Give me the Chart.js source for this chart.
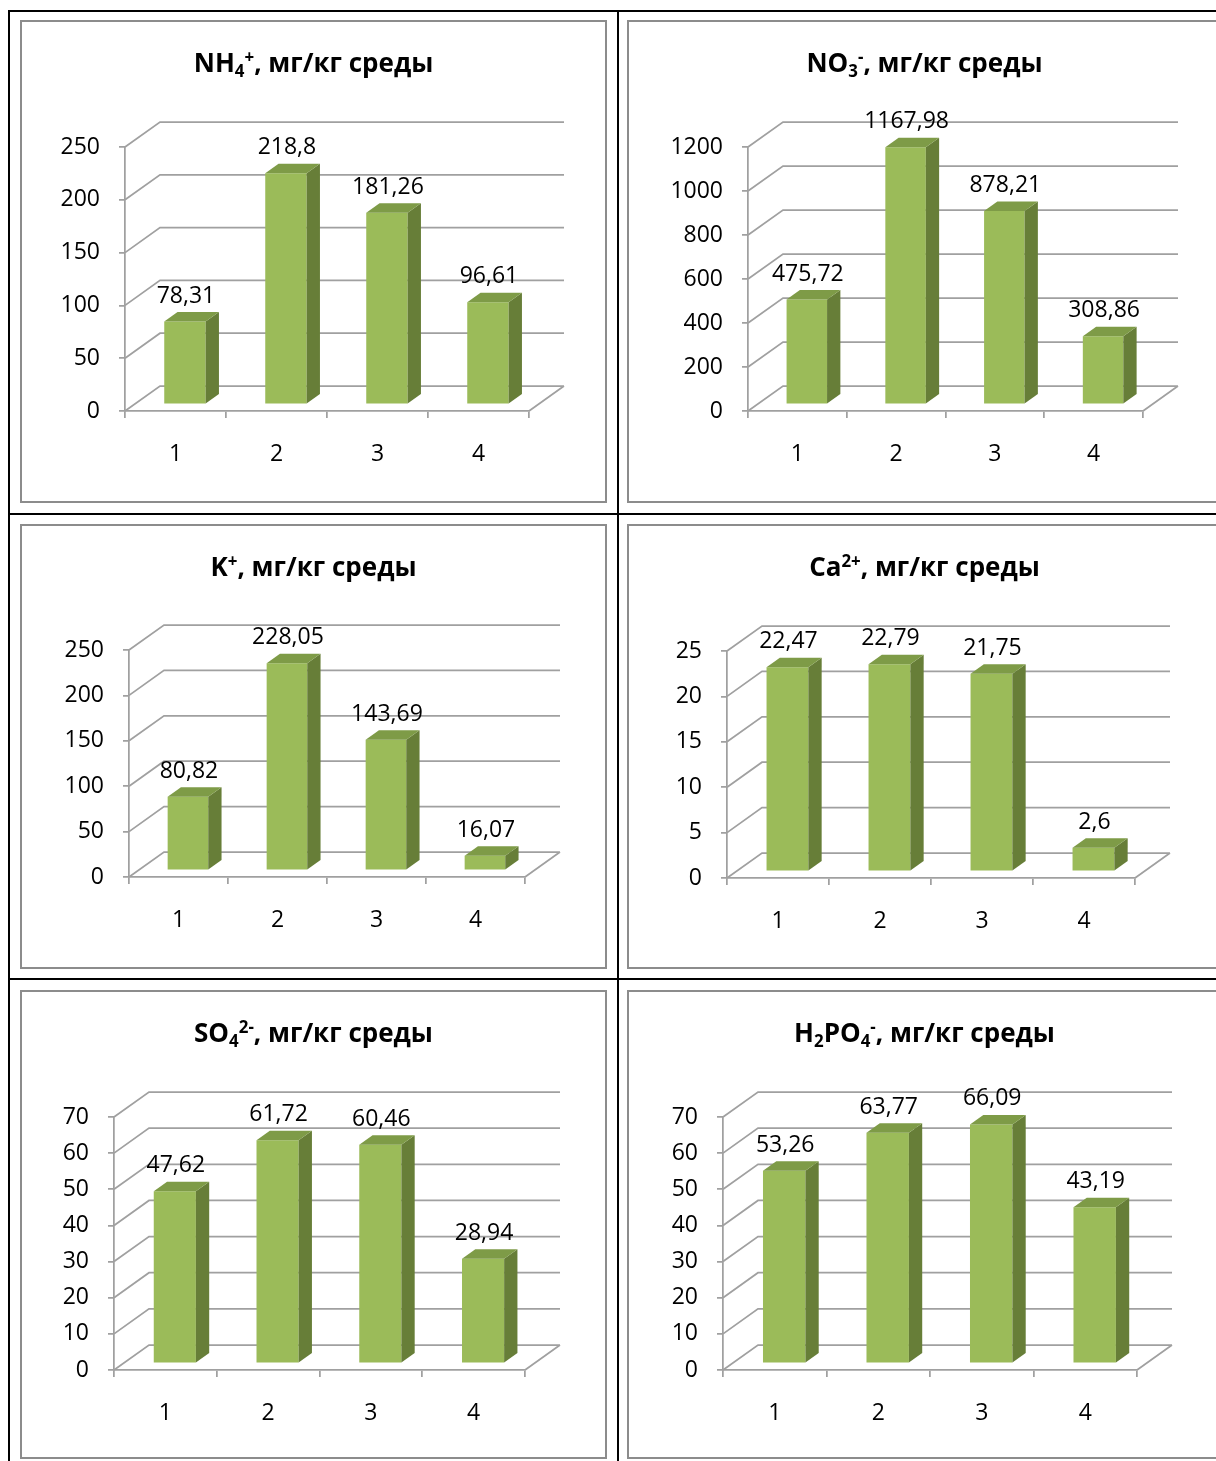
<!DOCTYPE html>
<html>
<head>
<meta charset="utf-8">
<script src="https://cdn.jsdelivr.net/npm/chart.js@4.4.1/dist/chart.umd.min.js"></script>
<style>
  body { margin: 0; width: 1216px; height: 1461px; overflow: hidden; background: #fff; position: relative; font-family: "Open Sans", sans-serif; }
  .line { position: absolute; background: #000; }
  .box { position: absolute; border: 2px solid #8c8c8c; box-sizing: border-box; background: #fff; }
  .box canvas { position: absolute; left: 0; top: 0; }
  .box h3 { position: absolute; left: 0; right: 0; top: 21px; margin: 0; text-align: center; font: bold 26px/38px "Open Sans", sans-serif; color: #000; z-index: 2; }
  .box h3 sub, .box h3 sup { font-size: 0.65em; line-height: 0; }
  .box h3 sub { vertical-align: -0.3em; }
  .box h3 sup { vertical-align: 0.55em; }
</style>
</head>
<body>
<script>
// данные
const categories = ['1', '2', '3', '4'];

const nh4 = [78.31, 218.8, 181.26, 96.61];
const no3 = [475.72, 1167.98, 878.21, 308.86];
const kPlus = [80.82, 228.05, 143.69, 16.07];
const ca = [22.47, 22.79, 21.75, 2.6];
const so4 = [47.62, 61.72, 60.46, 28.94];
const h2po4 = [53.26, 63.77, 66.09, 43.19];

const series = [nh4, no3, kPlus, ca, so4, h2po4];
const titles = [
    'NH<sub>4</sub><sup>+</sup>, мг/кг среды',
    'NO<sub>3</sub><sup>-</sup>, мг/кг среды',
    'K<sup>+</sup>, мг/кг среды',
    'Ca<sup>2+</sup>, мг/кг среды',
    'SO<sub>4</sub><sup>2-</sup>, мг/кг среды',
    'H<sub>2</sub>PO<sub>4</sub><sup>-</sup>, мг/кг среды'
];
const yMax = [250, 1200, 250, 25, 70, 70];
const yStep = [50, 200, 50, 5, 10, 10];

// рамки (x, y, w, h) и передняя плоскость графика [left, top, right, bottom] в координатах страницы
const boxes = [
    { x: 20, y: 20, w: 587, h: 483, plot: [125, 147, 529, 411] },
    { x: 627, y: 20, w: 595, h: 483, plot: [748, 147, 1143, 411] },
    { x: 20, y: 524, w: 587, h: 445, plot: [129, 650, 525, 877] },
    { x: 627, y: 524, w: 595, h: 445, plot: [727, 651, 1135, 878] },
    { x: 20, y: 990, w: 587, h: 469, plot: [114, 1117, 525, 1370] },
    { x: 627, y: 990, w: 595, h: 469, plot: [723, 1117, 1137, 1370] }
];

const GRID = '#a0a0a0';
const FRONT = '#9bbb59', SIDE = '#677e38', TOP = '#7e9b47';
const DX = 35, DY = 25;       // глубина "3D"
const F0 = 0.27, F1 = 0.65;   // положение столбика по глубине
const Y_W = 80, X_H = 60;

// линии таблицы
function addLine(x, y, w, h) {
    const d = document.createElement('div');
    d.className = 'line';
    Object.assign(d.style, { left: x + 'px', top: y + 'px', width: w + 'px', height: h + 'px' });
    document.body.appendChild(d);
}
addLine(8, 10, 1220, 2);
addLine(8, 10, 2, 1460);
addLine(617, 10, 2, 1460);
addLine(8, 513, 1220, 2);
addLine(8, 978, 1220, 2);

const fmt = v => String(v).replace('.', ',');

const box3d = {
    id: 'box3d',
    beforeDatasetsDraw(chart) {
        const { ctx, chartArea: a, scales: { y } } = chart;
        ctx.save();
        ctx.strokeStyle = GRID;
        ctx.lineWidth = 1.75;
        ctx.beginPath();
        y.ticks.forEach(t => {
            const py = y.getPixelForValue(t.value);
            ctx.moveTo(a.left, py);
            ctx.lineTo(a.left + DX, py - DY);
            ctx.lineTo(a.right + DX, py - DY);
        });
        const p0 = y.getPixelForValue(0);
        ctx.moveTo(a.right, p0);
        ctx.lineTo(a.right + DX, p0 - DY);
        ctx.stroke();
        ctx.restore();
        // передняя грань столбиков рисуется Chart.js, сдвинутая вглубь
        ctx.save();
        ctx.translate(DX * F0, -DY * F0);
    },
    afterDatasetsDraw(chart) {
        const { ctx } = chart;
        ctx.restore();
        const ox = DX * F0, oy = -DY * F0;
        const bx = DX * (F1 - F0), by = DY * (F1 - F0);
        const meta = chart.getDatasetMeta(0);
        const vals = chart.data.datasets[0].data;
        ctx.save();
        meta.data.forEach((el, i) => {
            const l = el.x - el.width / 2 + ox, r = el.x + el.width / 2 + ox;
            const t = el.y + oy, b = el.base + oy;
            ctx.fillStyle = SIDE;
            ctx.beginPath();
            ctx.moveTo(r, t); ctx.lineTo(r + bx, t - by); ctx.lineTo(r + bx, b - by); ctx.lineTo(r, b);
            ctx.closePath(); ctx.fill();
            ctx.fillStyle = TOP;
            ctx.beginPath();
            ctx.moveTo(l, t); ctx.lineTo(l + bx, t - by); ctx.lineTo(r + bx, t - by); ctx.lineTo(r, t);
            ctx.closePath(); ctx.fill();
            ctx.fillStyle = '#000';
            ctx.font = '23px "Open Sans", sans-serif';
            ctx.textAlign = 'center';
            ctx.textBaseline = 'middle';
            ctx.fillText(fmt(vals[i]), el.x + ox + 1, t - by - 16);
        });
        ctx.restore();
    }
};

Chart.defaults.font.family = '"Open Sans", sans-serif';
Chart.defaults.font.size = 23;
Chart.defaults.color = '#000';

boxes.forEach((bx, i) => {
    const div = document.createElement('div');
    div.className = 'box';
    Object.assign(div.style, { left: bx.x + 'px', top: bx.y + 'px', width: bx.w + 'px', height: bx.h + 'px' });
    const h3 = document.createElement('h3');
    h3.innerHTML = titles[i];
    const canvas = document.createElement('canvas');
    const cx = bx.x + 2, cy = bx.y + 2, cw = bx.w - 4, ch = bx.h - 4;
    canvas.width = cw;
    canvas.height = ch;
    canvas.style.width = cw + 'px';
    canvas.style.height = ch + 'px';
    div.append(canvas, h3);
    document.body.appendChild(div);

    const [L, T, R, B] = bx.plot;
    new Chart(canvas.getContext('2d'), {
        type: 'bar',
        data: {
            labels: categories,
            datasets: [{
                data: series[i],
                backgroundColor: FRONT,
                borderWidth: 0,
                barPercentage: 0.41,
                categoryPercentage: 1,
                clip: false
            }]
        },
        options: {
            responsive: false,
            animation: false,
            devicePixelRatio: 1,
            layout: {
                padding: {
                    left: L - cx - Y_W,
                    top: T - cy,
                    right: cw - (R - cx),
                    bottom: ch - X_H - (B - cy)
                }
            },
            plugins: { legend: { display: false }, tooltip: { enabled: false } },
            scales: {
                x: {
                    afterFit: s => { s.height = X_H; },
                    grid: { drawOnChartArea: false, drawTicks: true, tickLength: 7, color: GRID, lineWidth: 1.75 },
                    border: { color: GRID, width: 1.75 },
                    ticks: { padding: 23, color: '#000' }
                },
                y: {
                    min: 0,
                    max: yMax[i],
                    afterFit: s => { s.width = Y_W; },
                    grid: { drawOnChartArea: false, drawTicks: true, tickLength: 6, color: GRID, lineWidth: 1.75 },
                    border: { color: GRID, width: 1.75 },
                    ticks: { stepSize: yStep[i], padding: 19, color: '#000', callback: v => String(v) }
                }
            }
        },
        plugins: [box3d]
    });
});
</script>
</body>
</html>
